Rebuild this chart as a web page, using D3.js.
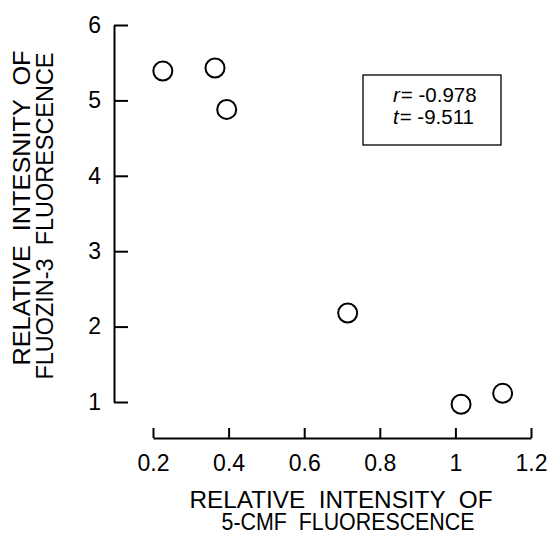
<!DOCTYPE html>
<html lang="en">
<head>
  <meta charset="UTF-8">
  <title>5-CMF vs FluoZin-3</title>
  <script src="https://d3js.org/d3.v7.min.js"></script>
  <style>
    body { margin: 0; background: #fff; }
    svg text { font-family: "Liberation Sans", Arial, sans-serif; fill: #000; }
  </style>
</head>
<body>
  <script>
    // values
    const cmf = [0.226, 0.364, 0.395, 0.715, 1.015, 1.125];
    const fluozin = [5.39, 5.43, 4.88, 2.18, 0.97, 1.115];
    const xTicks = [0.2, 0.4, 0.6, 0.8, 1, 1.2];
    const yTicks = [1, 2, 3, 4, 5, 6];
    const statLines = [["r", "= -0.978"], ["t", "= -9.511"]];
    const xTitle = ["RELATIVE  INTENSITY  OF", "5-CMF  FLUORESCENCE"];
    const yTitle = ["RELATIVE  INTESNITY  OF", "FLUOZIN-3  FLUORESCENCE"];

    const width = 550, height = 535;

    const svg = d3.select("body").append("svg")
      .attr("width", width)
      .attr("height", height);

    const x = d3.scaleLinear().domain([0.2, 1.2]).range([153, 531]);
    const y = d3.scaleLinear().domain([1, 6]).range([402, 25]);

    // y axis, ticks pointing inward
    const yAxis = svg.append("g")
      .attr("transform", "translate(114,0)")
      .call(d3.axisLeft(y).tickValues(yTicks).tickFormat(d3.format("d"))
        .tickSizeInner(-14).tickSizeOuter(0).tickPadding(13));

    // x axis sits below, detached from y axis
    const xAxis = svg.append("g")
      .attr("transform", "translate(0,438)")
      .call(d3.axisBottom(x).tickValues(xTicks).tickFormat(d => d === 1 ? "1" : d3.format(".1f")(d))
        .tickSizeInner(-10).tickSizeOuter(0).tickPadding(17));

    [xAxis, yAxis].forEach(ax => {
      ax.attr("font-size", 23).attr("font-family", null);
      ax.selectAll("path, line").attr("stroke", "#000").attr("stroke-width", 2);
    });

    // points
    svg.append("g").selectAll("circle")
      .data(cmf)
      .join("circle")
      .attr("cx", d => x(d))
      .attr("cy", (d, i) => y(fluozin[i]))
      .attr("r", 9.5)
      .attr("fill", "none")
      .attr("stroke", "#000")
      .attr("stroke-width", 2);

    // stats box
    svg.append("rect")
      .attr("x", 363).attr("y", 75)
      .attr("width", 138).attr("height", 70)
      .attr("fill", "none")
      .attr("stroke", "#000")
      .attr("stroke-width", 1.3);

    const stat = svg.append("g").selectAll("text")
      .data(statLines)
      .join("text")
      .attr("x", 393)
      .attr("y", (d, i) => 102 + i * 22)
      .attr("font-size", 20.5);
    stat.append("tspan").attr("font-style", "italic").text(d => d[0]);
    stat.append("tspan").attr("dx", 1).text(d => d[1]);

    // axis titles
    const xTitleLen = [303, 253];
    svg.append("g").selectAll("text")
      .data(xTitle)
      .join("text")
      .attr("x", (d, i) => i === 0 ? 341 : 348)
      .attr("y", (d, i) => 508 + i * 22)
      .attr("text-anchor", "middle")
      .attr("font-size", 23)
      .attr("textLength", (d, i) => xTitleLen[i])
      .attr("lengthAdjust", "spacingAndGlyphs")
      .style("white-space", "pre")
      .text(d => d);

    const yTitleLen = [315, 327];
    svg.append("g").selectAll("text")
      .data(yTitle)
      .join("text")
      .attr("transform", (d, i) => `translate(${30 + i * 23},${i === 0 ? 208 : 216}) rotate(-90)`)
      .attr("text-anchor", "middle")
      .attr("font-size", 23)
      .attr("textLength", (d, i) => yTitleLen[i])
      .attr("lengthAdjust", "spacingAndGlyphs")
      .style("white-space", "pre")
      .text(d => d);
  </script>
</body>
</html>
